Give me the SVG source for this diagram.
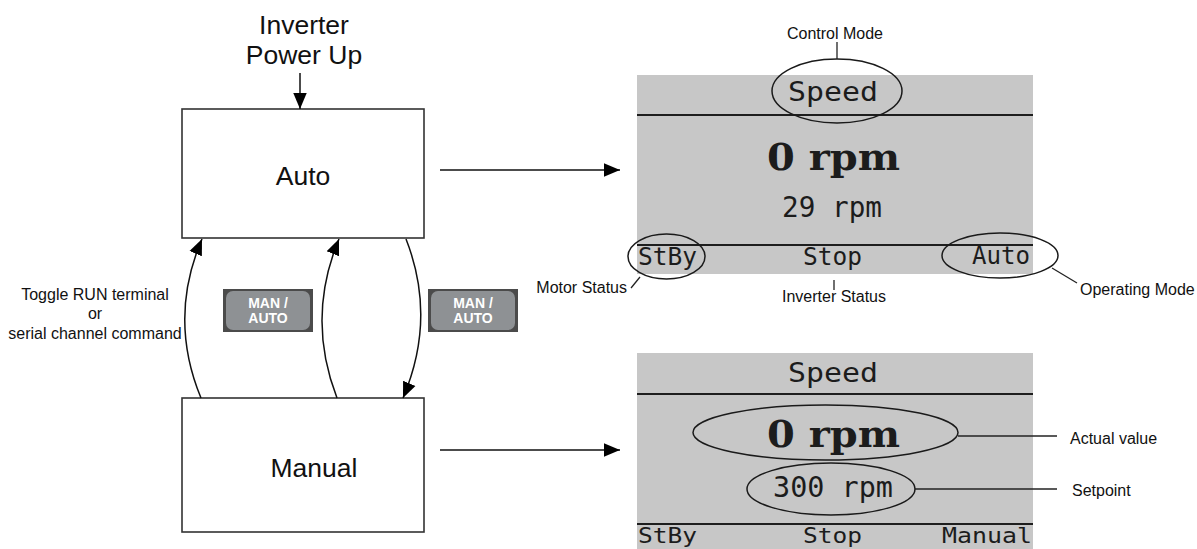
<svg xmlns="http://www.w3.org/2000/svg" width="1197" height="549" viewBox="0 0 1197 549">
<defs>
<marker id="ah" viewBox="0 0 10 10" refX="10" refY="5" markerWidth="16" markerHeight="16" markerUnits="userSpaceOnUse" orient="auto">
<path d="M0,0.8 L10,5 L0,9.2 Z" fill="#000"/>
</marker>
<style>
.box{fill:#fff;stroke:#333;stroke-width:1.6}
.lbl{font-family:"Liberation Sans",Arial,sans-serif;fill:#111}
.big{font-size:26.5px;text-anchor:middle}
.sm{font-size:16px}
.conn{fill:none;stroke:#111;stroke-width:1.5}
.lead{fill:none;stroke:#222;stroke-width:1.3}
.lcd{fill:#c7c7c7}
.lcdline{stroke:#1e1e1e;stroke-width:2.2}
.lcdt{font-family:"DejaVu Sans Mono","Liberation Mono",monospace;fill:#1c1c1c}
.lcdb{font-family:"DejaVu Serif","Liberation Serif",serif;font-weight:bold;fill:#1c1c1c}
.ell{fill:none;stroke:#1a1a1a;stroke-width:1.5}
.btnO{fill:#4b4b4b}
.btnI{fill:#8e9194}
.btnT{font-family:"Liberation Sans",Arial,sans-serif;font-weight:bold;font-size:14px;fill:#fff;text-anchor:middle}
</style>
</defs>
<rect width="1197" height="549" fill="#fff"/>

<g id="powerup">
<text class="lbl big" x="304" y="34">Inverter</text>
<text class="lbl big" x="304" y="64">Power Up</text>
</g>

<g id="auto">
<rect class="box" x="182" y="109" width="242" height="129"/>
<text class="lbl big" x="303" y="185">Auto</text>
</g>

<g id="manual">
<rect class="box" x="182" y="398" width="242" height="134"/>
<text class="lbl big" x="314" y="477">Manual</text>
</g>

<g id="toggle-label">
<text class="lbl sm" text-anchor="middle" x="95" y="300">Toggle RUN terminal</text>
<text class="lbl sm" text-anchor="middle" x="95" y="319">or</text>
<text class="lbl sm" text-anchor="middle" x="95" y="339">serial channel command</text>
</g>

<g id="btn1">
<rect class="btnO" x="223" y="289" width="90" height="43"/>
<rect class="btnI" x="226" y="291" width="84" height="39" rx="7"/>
<text class="btnT" x="268" y="308">MAN /</text>
<text class="btnT" x="268" y="323">AUTO</text>
</g>

<g id="btn2">
<rect class="btnO" x="428" y="289" width="90" height="43"/>
<rect class="btnI" x="431" y="291" width="84" height="39" rx="7"/>
<text class="btnT" x="473" y="308">MAN /</text>
<text class="btnT" x="473" y="323">AUTO</text>
</g>

<g id="screen-auto">
<rect class="lcd" x="637" y="75" width="396" height="199"/>
<line class="lcdline" x1="637" y1="115" x2="1033" y2="115"/>
<line class="lcdline" x1="637" y1="245" x2="1033" y2="245"/>
<text class="lcdt" x="788" y="101" font-size="26" textLength="90" lengthAdjust="spacingAndGlyphs">Speed</text>
<text class="lcdb" x="767" y="170" font-size="38" textLength="133" lengthAdjust="spacingAndGlyphs">0 rpm</text>
<text class="lcdt" x="782" y="217" font-size="29" textLength="100" lengthAdjust="spacingAndGlyphs">29 rpm</text>
<text class="lcdt" x="638" y="265" font-size="24" textLength="59" lengthAdjust="spacingAndGlyphs" fill="#333">StBy</text>
<text class="lcdt" x="803" y="265" font-size="24" textLength="59" lengthAdjust="spacingAndGlyphs" fill="#333">Stop</text>
<text class="lcdt" x="972" y="264" font-size="24" textLength="58" lengthAdjust="spacingAndGlyphs">Auto</text>
<ellipse class="ell" cx="837" cy="91" rx="65" ry="32"/>
<ellipse class="ell" cx="666.5" cy="256.5" rx="38.5" ry="22.5"/>
<ellipse class="ell" cx="1000" cy="255.5" rx="58" ry="22.5"/>
</g>

<g id="screen-manual">
<rect class="lcd" x="637" y="353" width="396" height="196"/>
<line class="lcdline" x1="637" y1="394" x2="1033" y2="394"/>
<line class="lcdline" x1="637" y1="524" x2="1033" y2="524"/>
<text class="lcdt" x="788" y="382" font-size="26" textLength="90" lengthAdjust="spacingAndGlyphs">Speed</text>
<text class="lcdb" x="767" y="447" font-size="38" textLength="133" lengthAdjust="spacingAndGlyphs">0 rpm</text>
<text class="lcdt" x="773" y="497" font-size="29" textLength="120" lengthAdjust="spacingAndGlyphs">300 rpm</text>
<text class="lcdt" x="638" y="543" font-size="22" textLength="59" lengthAdjust="spacingAndGlyphs" fill="#333">StBy</text>
<text class="lcdt" x="803" y="543" font-size="22" textLength="59" lengthAdjust="spacingAndGlyphs" fill="#333">Stop</text>
<text class="lcdt" x="942" y="543" font-size="22" textLength="90" lengthAdjust="spacingAndGlyphs">Manual</text>
<ellipse class="ell" cx="825.5" cy="432.5" rx="132.5" ry="27.5"/>
<ellipse class="ell" cx="831" cy="489" rx="84" ry="26"/>
</g>

<g id="callouts">
<line class="lead" x1="837" y1="42" x2="837" y2="59"/>
<text class="lbl sm" text-anchor="middle" x="835" y="39">Control Mode</text>
<line class="lead" x1="640" y1="277" x2="631" y2="288"/>
<text class="lbl sm" text-anchor="end" x="627" y="293">Motor Status</text>
<line class="lead" x1="834" y1="280" x2="834" y2="290"/>
<text class="lbl sm" text-anchor="middle" x="834" y="302">Inverter Status</text>
<line class="lead" x1="1052" y1="268" x2="1077" y2="283"/>
<text class="lbl sm" x="1080" y="295">Operating Mode</text>
<line class="lead" x1="958" y1="436" x2="1057" y2="436"/>
<text class="lbl sm" x="1070" y="444">Actual value</text>
<line class="lead" x1="915" y1="489" x2="1057" y2="489"/>
<text class="lbl sm" x="1072" y="496">Setpoint</text>
</g>

<g id="connectors">
<line class="conn" x1="300" y1="73" x2="300" y2="109" marker-end="url(#ah)"/>
<line class="conn" x1="440" y1="170" x2="620" y2="170" marker-end="url(#ah)"/>
<line class="conn" x1="440" y1="450" x2="620" y2="450" marker-end="url(#ah)"/>
<path class="conn" d="M201,398 Q168,318 202,239" marker-end="url(#ah)"/>
<path class="conn" d="M337,398 Q306,318 339,239" marker-end="url(#ah)"/>
<path class="conn" d="M406,239 Q437,318 403,398" marker-end="url(#ah)"/>
</g>
</svg>
